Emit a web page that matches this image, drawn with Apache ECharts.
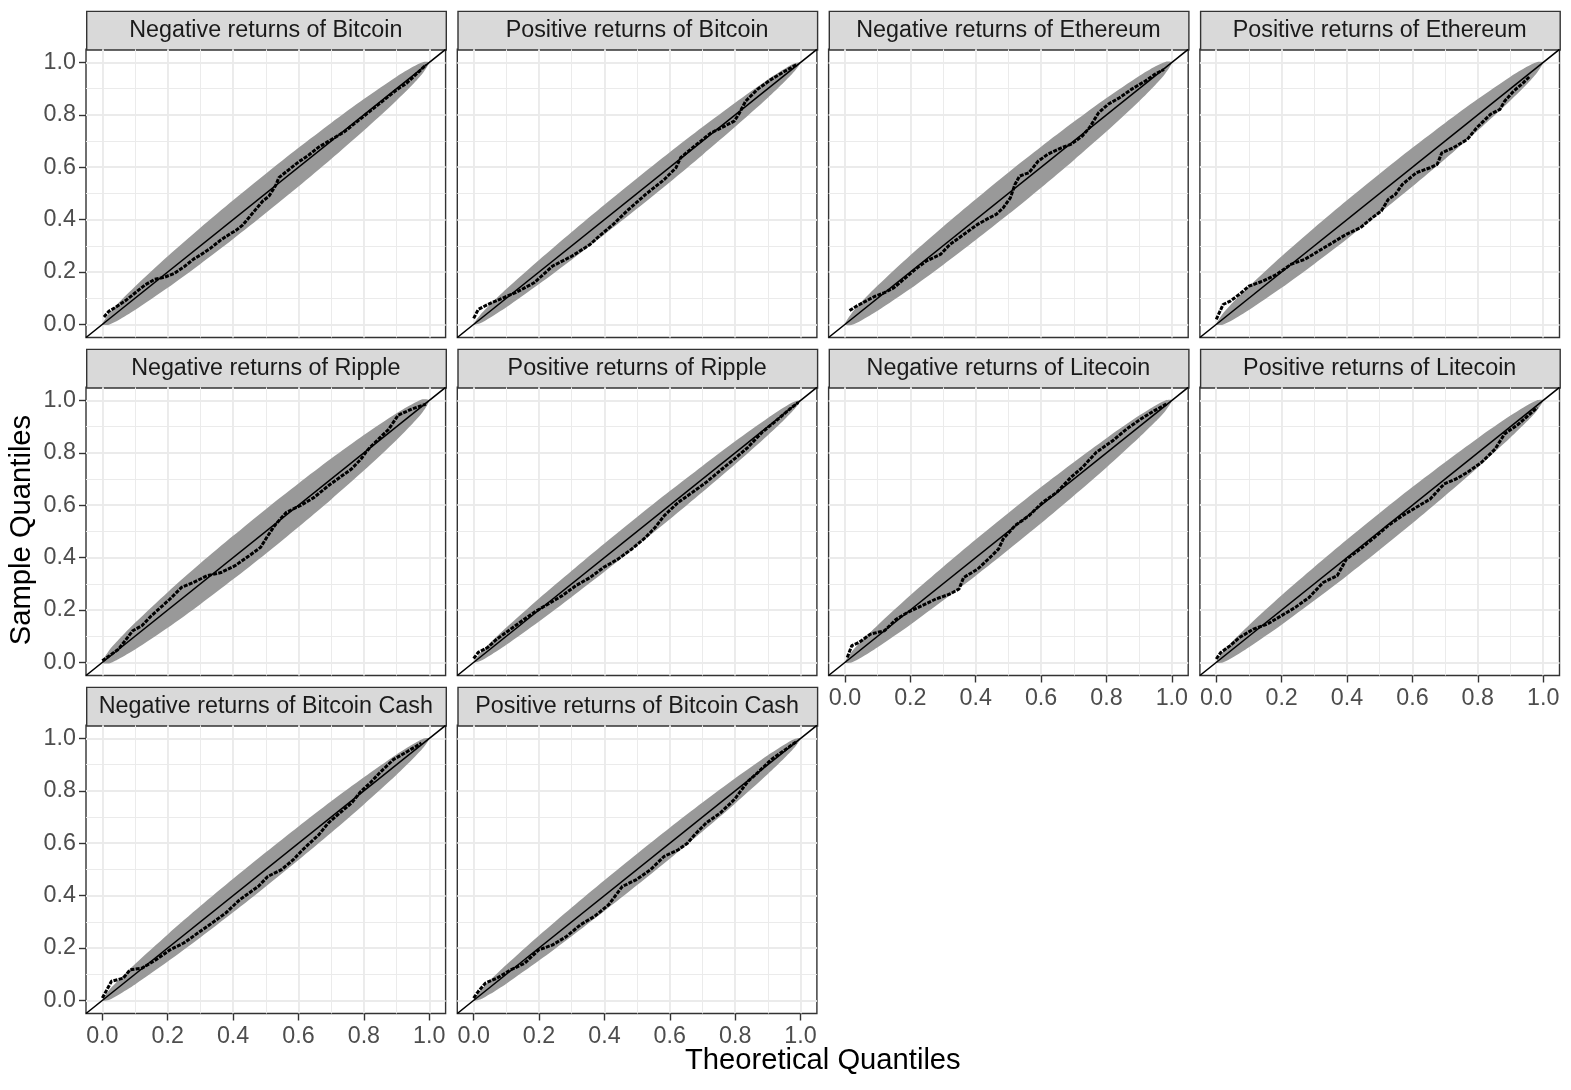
<!DOCTYPE html>
<html>
<head>
<meta charset="utf-8">
<script src="https://cdn.jsdelivr.net/npm/echarts@6/dist/echarts.min.js"></script>
<style>
html,body{margin:0;padding:0;background:#fff;}
#main{width:1571px;height:1090px;}
</style>
</head>
<body>
<div id="main"></div>
<script>
// ---------- data ----------
const panelTitles = [
  'Negative returns of Bitcoin', 'Positive returns of Bitcoin',
  'Negative returns of Ethereum', 'Positive returns of Ethereum',
  'Negative returns of Ripple', 'Positive returns of Ripple',
  'Negative returns of Litecoin', 'Positive returns of Litecoin',
  'Negative returns of Bitcoin Cash', 'Positive returns of Bitcoin Cash'
];
const tickValues = [0, 0.2, 0.4, 0.6, 0.8, 1.0];
const minorTickValues = [0.1, 0.3, 0.5, 0.7, 0.9];
const refLineEnds = [-0.05, 1.05];

// x positions at which the band half-widths were read
const bandX = [0, 0.02, 0.05, 0.1, 0.2, 0.3, 0.4, 0.5, 0.6, 0.7, 0.8, 0.9, 0.95, 0.98, 1];
const negBitcoinBand  = [0, 0.021, 0.033, 0.045, 0.060, 0.069, 0.074, 0.075, 0.074, 0.069, 0.060, 0.045, 0.033, 0.021, 0];
const posBitcoinBand  = [0, 0.016, 0.025, 0.035, 0.046, 0.053, 0.057, 0.058, 0.057, 0.053, 0.046, 0.035, 0.025, 0.016, 0];
const negEthereumBand = [0, 0.022, 0.035, 0.048, 0.064, 0.073, 0.078, 0.080, 0.078, 0.073, 0.064, 0.048, 0.035, 0.022, 0];
const posEthereumBand = [0, 0.021, 0.033, 0.045, 0.060, 0.069, 0.074, 0.075, 0.074, 0.069, 0.060, 0.045, 0.033, 0.021, 0];
const negRippleBand   = [0, 0.024, 0.037, 0.051, 0.068, 0.078, 0.083, 0.085, 0.083, 0.078, 0.068, 0.051, 0.037, 0.024, 0];
const posRippleBand   = [0, 0.015, 0.024, 0.033, 0.044, 0.050, 0.054, 0.055, 0.054, 0.050, 0.044, 0.033, 0.024, 0.015, 0];
const negLitecoinBand = [0, 0.020, 0.031, 0.042, 0.056, 0.064, 0.069, 0.070, 0.069, 0.064, 0.056, 0.042, 0.031, 0.020, 0];
const posLitecoinBand = [0, 0.020, 0.031, 0.042, 0.056, 0.064, 0.069, 0.070, 0.069, 0.064, 0.056, 0.042, 0.031, 0.020, 0];
const negBchBand      = [0, 0.018, 0.028, 0.039, 0.052, 0.060, 0.064, 0.065, 0.064, 0.060, 0.052, 0.039, 0.028, 0.018, 0];
const posBchBand      = [0, 0.017, 0.026, 0.036, 0.048, 0.055, 0.059, 0.060, 0.059, 0.055, 0.048, 0.036, 0.026, 0.017, 0];

// sample quantiles [theoretical, sample]
const negBitcoinPts = [[0.005,0.028],[0.02,0.05],[0.04,0.065],[0.07,0.09],[0.1,0.12],[0.13,0.15],[0.16,0.172],[0.19,0.18],[0.22,0.195],[0.25,0.22],[0.28,0.25],[0.3,0.265],[0.33,0.29],[0.36,0.32],[0.39,0.345],[0.41,0.36],[0.43,0.38],[0.45,0.41],[0.47,0.44],[0.49,0.47],[0.51,0.49],[0.53,0.53],[0.54,0.56],[0.57,0.59],[0.6,0.62],[0.63,0.645],[0.66,0.675],[0.7,0.705],[0.74,0.735],[0.78,0.775],[0.82,0.815],[0.86,0.855],[0.9,0.895],[0.93,0.92],[0.96,0.955],[0.99,0.99]];
const posBitcoinPts = [[0.0,0.023],[0.014,0.057],[0.043,0.076],[0.078,0.095],[0.128,0.121],[0.185,0.159],[0.242,0.223],[0.3,0.26],[0.356,0.305],[0.384,0.337],[0.427,0.382],[0.469,0.433],[0.526,0.496],[0.583,0.553],[0.619,0.598],[0.633,0.636],[0.669,0.674],[0.725,0.73],[0.768,0.757],[0.797,0.776],[0.81,0.8],[0.832,0.852],[0.868,0.897],[0.91,0.935],[0.953,0.967],[0.989,0.992]];
const negEthereumPts = [[0.014,0.053],[0.036,0.07],[0.064,0.089],[0.093,0.108],[0.121,0.121],[0.15,0.14],[0.185,0.178],[0.221,0.216],[0.249,0.242],[0.292,0.267],[0.321,0.305],[0.363,0.343],[0.406,0.382],[0.442,0.407],[0.463,0.42],[0.484,0.445],[0.506,0.483],[0.52,0.534],[0.534,0.566],[0.563,0.579],[0.591,0.623],[0.62,0.649],[0.662,0.674],[0.691,0.687],[0.726,0.719],[0.748,0.751],[0.776,0.808],[0.805,0.84],[0.84,0.865],[0.876,0.897],[0.919,0.929],[0.947,0.954],[0.976,0.973]];
const posEthereumPts = [[0.0,0.019],[0.007,0.038],[0.021,0.076],[0.043,0.089],[0.071,0.115],[0.1,0.146],[0.142,0.165],[0.185,0.191],[0.228,0.229],[0.27,0.248],[0.313,0.28],[0.356,0.312],[0.398,0.344],[0.441,0.369],[0.477,0.407],[0.505,0.433],[0.526,0.477],[0.548,0.496],[0.569,0.534],[0.612,0.579],[0.654,0.598],[0.676,0.611],[0.69,0.655],[0.725,0.674],[0.768,0.706],[0.797,0.751],[0.839,0.802],[0.868,0.821],[0.882,0.852],[0.91,0.891],[0.939,0.922],[0.96,0.948]];
const negRipplePts = [[0.0,0.006],[0.021,0.025],[0.05,0.051],[0.093,0.121],[0.121,0.14],[0.15,0.178],[0.207,0.242],[0.242,0.286],[0.278,0.305],[0.321,0.331],[0.363,0.343],[0.406,0.369],[0.449,0.407],[0.484,0.439],[0.506,0.483],[0.527,0.522],[0.563,0.573],[0.605,0.598],[0.648,0.63],[0.691,0.674],[0.726,0.706],[0.762,0.738],[0.791,0.776],[0.805,0.8],[0.819,0.821],[0.876,0.89],[0.905,0.944],[0.947,0.967],[0.99,0.986]];
const posRipplePts = [[0.0,0.015],[0.014,0.038],[0.043,0.057],[0.071,0.089],[0.1,0.115],[0.142,0.153],[0.185,0.191],[0.228,0.223],[0.27,0.254],[0.313,0.293],[0.356,0.324],[0.398,0.363],[0.441,0.394],[0.484,0.433],[0.526,0.477],[0.555,0.515],[0.583,0.56],[0.626,0.611],[0.669,0.649],[0.711,0.687],[0.754,0.732],[0.797,0.776],[0.839,0.821],[0.882,0.878],[0.925,0.922],[0.967,0.967],[0.993,0.992]];
const negLitecoinPts = [[0.007,0.019],[0.021,0.064],[0.043,0.076],[0.078,0.108],[0.121,0.121],[0.157,0.165],[0.192,0.191],[0.235,0.216],[0.278,0.242],[0.321,0.261],[0.349,0.28],[0.363,0.324],[0.406,0.356],[0.449,0.407],[0.47,0.433],[0.484,0.471],[0.52,0.522],[0.563,0.56],[0.605,0.611],[0.648,0.649],[0.691,0.706],[0.726,0.744],[0.769,0.802],[0.819,0.846],[0.862,0.891],[0.905,0.929],[0.947,0.961],[0.983,0.986]];
const posLitecoinPts = [[0.0,0.013],[0.014,0.038],[0.043,0.064],[0.071,0.095],[0.114,0.127],[0.156,0.146],[0.199,0.178],[0.242,0.21],[0.284,0.248],[0.327,0.305],[0.37,0.331],[0.398,0.394],[0.441,0.433],[0.484,0.477],[0.526,0.522],[0.569,0.56],[0.612,0.592],[0.654,0.623],[0.697,0.681],[0.733,0.7],[0.768,0.725],[0.811,0.763],[0.853,0.814],[0.882,0.872],[0.925,0.91],[0.953,0.941],[0.982,0.973]];
const negBchPts = [[0.0,0.009],[0.014,0.041],[0.028,0.073],[0.064,0.085],[0.085,0.117],[0.121,0.123],[0.164,0.155],[0.207,0.193],[0.249,0.219],[0.292,0.257],[0.335,0.295],[0.377,0.333],[0.42,0.384],[0.449,0.41],[0.477,0.435],[0.506,0.473],[0.548,0.499],[0.584,0.537],[0.613,0.575],[0.634,0.6],[0.662,0.632],[0.691,0.677],[0.726,0.715],[0.762,0.753],[0.791,0.798],[0.819,0.83],[0.848,0.868],[0.89,0.919],[0.933,0.95],[0.976,0.982]];
const posBchPts = [[0.0,0.009],[0.014,0.034],[0.036,0.066],[0.071,0.085],[0.114,0.117],[0.156,0.142],[0.199,0.193],[0.242,0.212],[0.284,0.244],[0.327,0.289],[0.37,0.321],[0.413,0.365],[0.455,0.435],[0.498,0.461],[0.541,0.499],[0.583,0.55],[0.626,0.575],[0.654,0.6],[0.676,0.632],[0.711,0.677],[0.754,0.715],[0.797,0.766],[0.839,0.836],[0.868,0.868],[0.91,0.919],[0.953,0.957],[0.989,0.989]];

const panelBands = [negBitcoinBand, posBitcoinBand, negEthereumBand, posEthereumBand, negRippleBand, posRippleBand, negLitecoinBand, posLitecoinBand, negBchBand, posBchBand];
const panelPoints = [negBitcoinPts, posBitcoinPts, negEthereumPts, posEthereumPts, negRipplePts, posRipplePts, negLitecoinPts, posLitecoinPts, negBchPts, posBchPts];

// ---------- layout ----------
const FONT = '"Liberation Sans", Arial, Helvetica, sans-serif';
const colLeft = [86, 457.3, 828.6, 1199.9];
const panelW = 359.6;
const stripTop = [10.7, 348.7, 686.7];
const stripH = 38.6;
const panelH = 288.2;
const N = panelTitles.length;
const bottomPanels = [6, 7, 8, 9];

const grids = [], xAxes = [], yAxes = [], series = [], graphics = [];

for (let i = 0; i < N; i++) {
  const row = Math.floor(i / 4), col = i % 4;
  const left = colLeft[col], top = stripTop[row] + stripH;
  grids.push({left: left, top: top, width: panelW, height: panelH, show: true,
    backgroundColor: '#fff', borderColor: '#333333', borderWidth: 1.4, containLabel: false});
  const showX = bottomPanels.indexOf(i) >= 0;
  const showY = col === 0;
  const fmt = v => v.toFixed(1);
  xAxes.push({type: 'value', gridIndex: i, min: -0.05, max: 1.05,
    axisLine: {show: false, onZero: false},
    axisTick: {show: showX, length: 7, lineStyle: {color: '#333333', width: 1.4}, customValues: tickValues},
    axisLabel: {show: showX, customValues: tickValues, formatter: fmt, color: '#4D4D4D', fontSize: 23.3, fontFamily: FONT, margin: 12},
    splitLine: {show: true, lineStyle: {color: '#EBEBEB', width: 1.9}}
  });
  yAxes.push({type: 'value', gridIndex: i, min: -0.05, max: 1.05,
    axisLine: {show: false, onZero: false},
    axisTick: {show: showY, length: 7, lineStyle: {color: '#333333', width: 1.4}, customValues: tickValues},
    axisLabel: {show: showY, customValues: tickValues, formatter: fmt, color: '#4D4D4D', fontSize: 23.3, fontFamily: FONT, margin: 10},
    splitLine: {show: true, lineStyle: {color: '#EBEBEB', width: 1.9}}
  });
  // strip
  graphics.push({type: 'rect', left: left, top: stripTop[row], silent: true,
    shape: {x: 0, y: 0, width: panelW, height: stripH},
    style: {fill: '#D9D9D9', stroke: '#333333', lineWidth: 1.4}});
  graphics.push({type: 'text', x: left + panelW / 2, y: stripTop[row] + stripH / 2 + 0.5, silent: true,
    style: {text: panelTitles[i], fill: '#1A1A1A', fontSize: 23.3, fontFamily: FONT,
      align: 'center', verticalAlign: 'middle', textAlign: 'center', textVerticalAlign: 'middle'}});
}
// minor grid axes
for (let i = 0; i < N; i++) {
  xAxes.push({type: 'value', gridIndex: i, min: -0.05, max: 1.05, position: 'top',
    axisLine: {show: false, onZero: false}, axisLabel: {show: false},
    axisTick: {show: false, customValues: minorTickValues},
    splitLine: {show: true, lineStyle: {color: '#EBEBEB', width: 1}}});
  yAxes.push({type: 'value', gridIndex: i, min: -0.05, max: 1.05, position: 'right',
    axisLine: {show: false, onZero: false}, axisLabel: {show: false},
    axisTick: {show: false, customValues: minorTickValues},
    splitLine: {show: true, lineStyle: {color: '#EBEBEB', width: 1}}});
}

function makeBandRenderer(half) {
  return function (params, api) {
    if (params.dataIndex !== 0) return null;
    const pts = [];
    for (let k = 0; k < bandX.length; k++) pts.push(api.coord([bandX[k], bandX[k] + half[k]]));
    for (let k = bandX.length - 2; k >= 1; k--) pts.push(api.coord([bandX[k], bandX[k] - half[k]]));
    return {type: 'polygon', shape: {points: pts, smooth: 0.25}, style: {fill: '#999999'}};
  };
}

for (let i = 0; i < N; i++) {
  const half = panelBands[i];
  series.push({type: 'custom', xAxisIndex: i, yAxisIndex: i, silent: true, z: 2,
    renderItem: makeBandRenderer(half),
    encode: {x: 0, y: [1, 2]},
    data: bandX.map((x, k) => [x, x - half[k], x + half[k]])});
  series.push({type: 'line', xAxisIndex: i, yAxisIndex: i, silent: true, z: 3,
    showSymbol: false, symbol: 'none',
    lineStyle: {color: '#000', width: 3, type: [4, 1.3]},
    data: panelPoints[i]});
  series.push({type: 'line', xAxisIndex: i, yAxisIndex: i, silent: true, z: 4,
    showSymbol: false, symbol: 'none', clip: true,
    lineStyle: {color: '#000', width: 1.6},
    data: refLineEnds.map(v => [v, v])});
}

graphics.push({type: 'text', x: 22, y: 530, rotation: Math.PI / 2, silent: true,
  style: {text: 'Sample Quantiles', fill: '#000', fontSize: 29.2, fontFamily: FONT,
    align: 'center', verticalAlign: 'middle', textAlign: 'center', textVerticalAlign: 'middle'}});
graphics.push({type: 'text', x: 822.8, y: 1061, silent: true,
  style: {text: 'Theoretical Quantiles', fill: '#000', fontSize: 29.2, fontFamily: FONT,
    align: 'center', verticalAlign: 'middle', textAlign: 'center', textVerticalAlign: 'middle'}});

const chart = echarts.init(document.getElementById('main'), null, {renderer: 'canvas'});
chart.setOption({
  animation: false,
  backgroundColor: '#fff',
  grid: grids, xAxis: xAxes, yAxis: yAxes, series: series, graphic: graphics
});
</script>
</body>
</html>
